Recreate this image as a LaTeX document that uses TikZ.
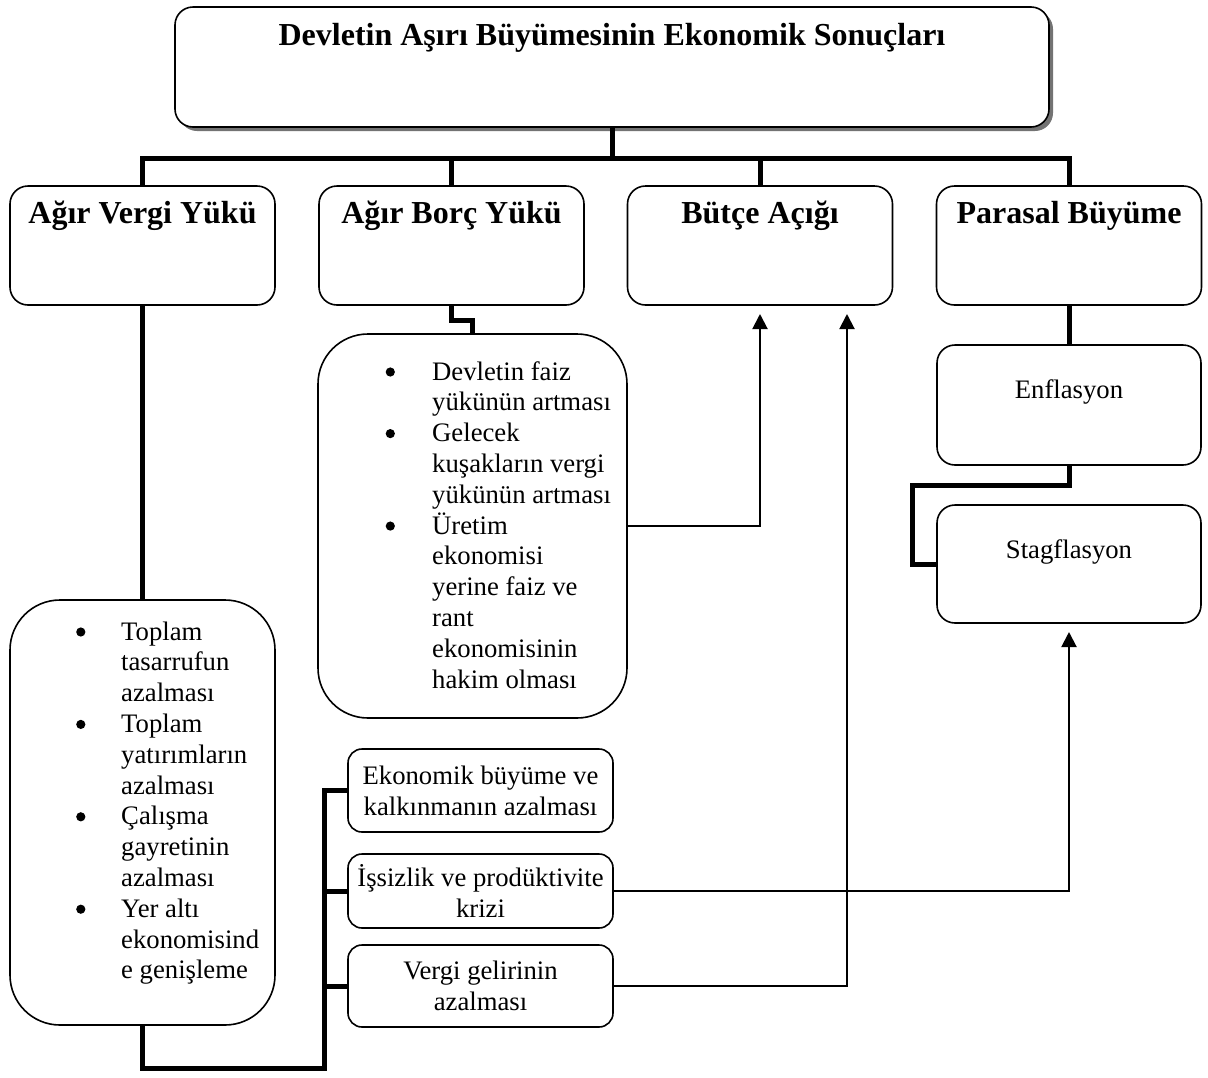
\documentclass[tikz,border=0pt]{standalone}
\usepackage{fontspec}
\setmainfont{Liberation Serif}
\usetikzlibrary{arrows.meta,shadows}

% round list bullet
\newcommand\bulletdot{\tikz[baseline=0pt]\fill (4.5pt,8pt) circle[radius=4.6pt];}

\begin{document}
\begin{tikzpicture}[x=1pt,y=-1pt,
  box/.style={draw, line width=1.6pt, rounded corners=18pt, inner sep=0pt, outer sep=0pt},
  listbox/.style={box, rounded corners=50pt},
  smallbox/.style={box, rounded corners=14pt},
  heading/.style={font=\fontsize{32}{36}\selectfont\bfseries, inner sep=0pt, anchor=base},
  body/.style={font=\fontsize{26.7}{30.8}\selectfont, inner sep=0pt},
  conn/.style={line width=5pt},
  arr/.style={line width=2pt, -{Triangle[length=15pt,width=15pt]}, shorten >=9pt},
]
\useasboundingbox (0,0) rectangle (1208,1077);

% title box
\node[box, minimum width=874pt, minimum height=120pt,
      drop shadow={shadow xshift=4pt, shadow yshift=-4pt, fill=black!55, opacity=1},
      fill=white] (top) at (612,67) {};
\node[heading] (top-t) at (612,45) {Devletin Aşırı Büyümesinin Ekonomik Sonuçları};

% second level
\node[box, minimum width=265pt, minimum height=119pt] (vergi)   at (142.5,245.5) {};
\node[box, minimum width=265pt, minimum height=119pt] (borc)    at (451.5,245.5) {};
\node[box, minimum width=265pt, minimum height=119pt] (butce)   at (760,245.5) {};
\node[box, minimum width=265pt, minimum height=119pt] (parasal) at (1069,245.5) {};
\node[heading] (vergi-t)   at (142.5,223) {Ağır Vergi Yükü};
\node[heading] (borc-t)    at (451.5,223) {Ağır Borç Yükü};
\node[heading] (butce-t)   at (760,223)   {Bütçe Açığı};
\node[heading] (parasal-t) at (1069,223)  {Parasal Büyüme};

% bullet lists
\node[listbox, minimum width=265pt, minimum height=425pt] (vlist) at (142.5,812.5) {};
\node[body, anchor=base west] (vlist-t) at (76,640) {%
  \begin{tabular}[t]{@{}p{45pt}@{}l@{}}
  \bulletdot&Toplam\\ &tasarrufun\\ &azalması\\
  \bulletdot&Toplam\\ &yatırımların\\ &azalması\\
  \bulletdot&Çalışma\\ &gayretinin\\ &azalması\\
  \bulletdot&Yer altı\\ &ekonomisind\\ &e genişleme
  \end{tabular}};

\node[listbox, minimum width=309pt, minimum height=384pt] (blist) at (472.5,526) {};
\node[body, anchor=base west] (blist-t) at (385.5,380) {%
  \begin{tabular}[t]{@{}p{46.5pt}@{}l@{}}
  \bulletdot&Devletin faiz\\ &yükünün artması\\
  \bulletdot&Gelecek\\ &kuşakların vergi\\ &yükünün artması\\
  \bulletdot&Üretim\\ &ekonomisi\\ &yerine faiz ve\\ &rant\\ &ekonomisinin\\ &hakim olması
  \end{tabular}};

% monetary growth chain
\node[box, minimum width=264pt, minimum height=120pt] (enf)  at (1069,405) {};
\node[box, minimum width=264pt, minimum height=118pt] (stag) at (1069,564) {};
\node[body, anchor=base] (enf-t)  at (1069,398) {Enflasyon};
\node[body, anchor=base] (stag-t) at (1069,558) {Stagflasyon};

% effects of the tax burden
\node[smallbox, body, align=center, minimum width=265pt, minimum height=83pt] (eko)  at (480.5,790.5)
  {Ekonomik büyüme ve\\kalkınmanın azalması};
\node[smallbox, body, align=center, minimum width=265pt, minimum height=74pt] (isz)  at (480.5,891)
  {İşsizlik ve prodüktivite\\krizi};
\node[smallbox, body, align=center, minimum width=265pt, minimum height=82pt] (vgel) at (480.5,986)
  {Vergi gelirinin\\azalması};

% thick tree connectors
\coordinate (bus) at (612,158);
\draw[conn] (top.south) -- (top.south |- bus);
\draw[conn] (vergi.north) -- (vergi.north |- bus) -- (parasal.north |- bus) -- (parasal.north);
\draw[conn] (borc.north) -- (borc.north |- bus);
\draw[conn] (butce.north) -- (butce.north |- bus);

\draw[conn] (vergi.south) -- (vlist.north);
\draw[conn] (borc.south) -- ++(0,15) -| (blist.north);
\draw[conn] (parasal.south) -- (enf.north);
\draw[conn] (enf.south) -- ++(0,20) -| ([xshift=-25pt]stag.west) -- (stag.west);

\coordinate (spine) at (324,1068);
\draw[conn] (vlist.south) |- (spine) |- (eko.west);
\draw[conn] (spine |- isz.west) -- (isz.west);
\draw[conn] (spine |- vgel.west) -- (vgel.west);

% arrows
\draw[arr] (blist.east) -| (butce.south);
\draw[arr] (vgel.east) -| ([xshift=87pt]butce.south);
\draw[arr] (isz.east) -| (stag.south);
\end{tikzpicture}
\end{document}
